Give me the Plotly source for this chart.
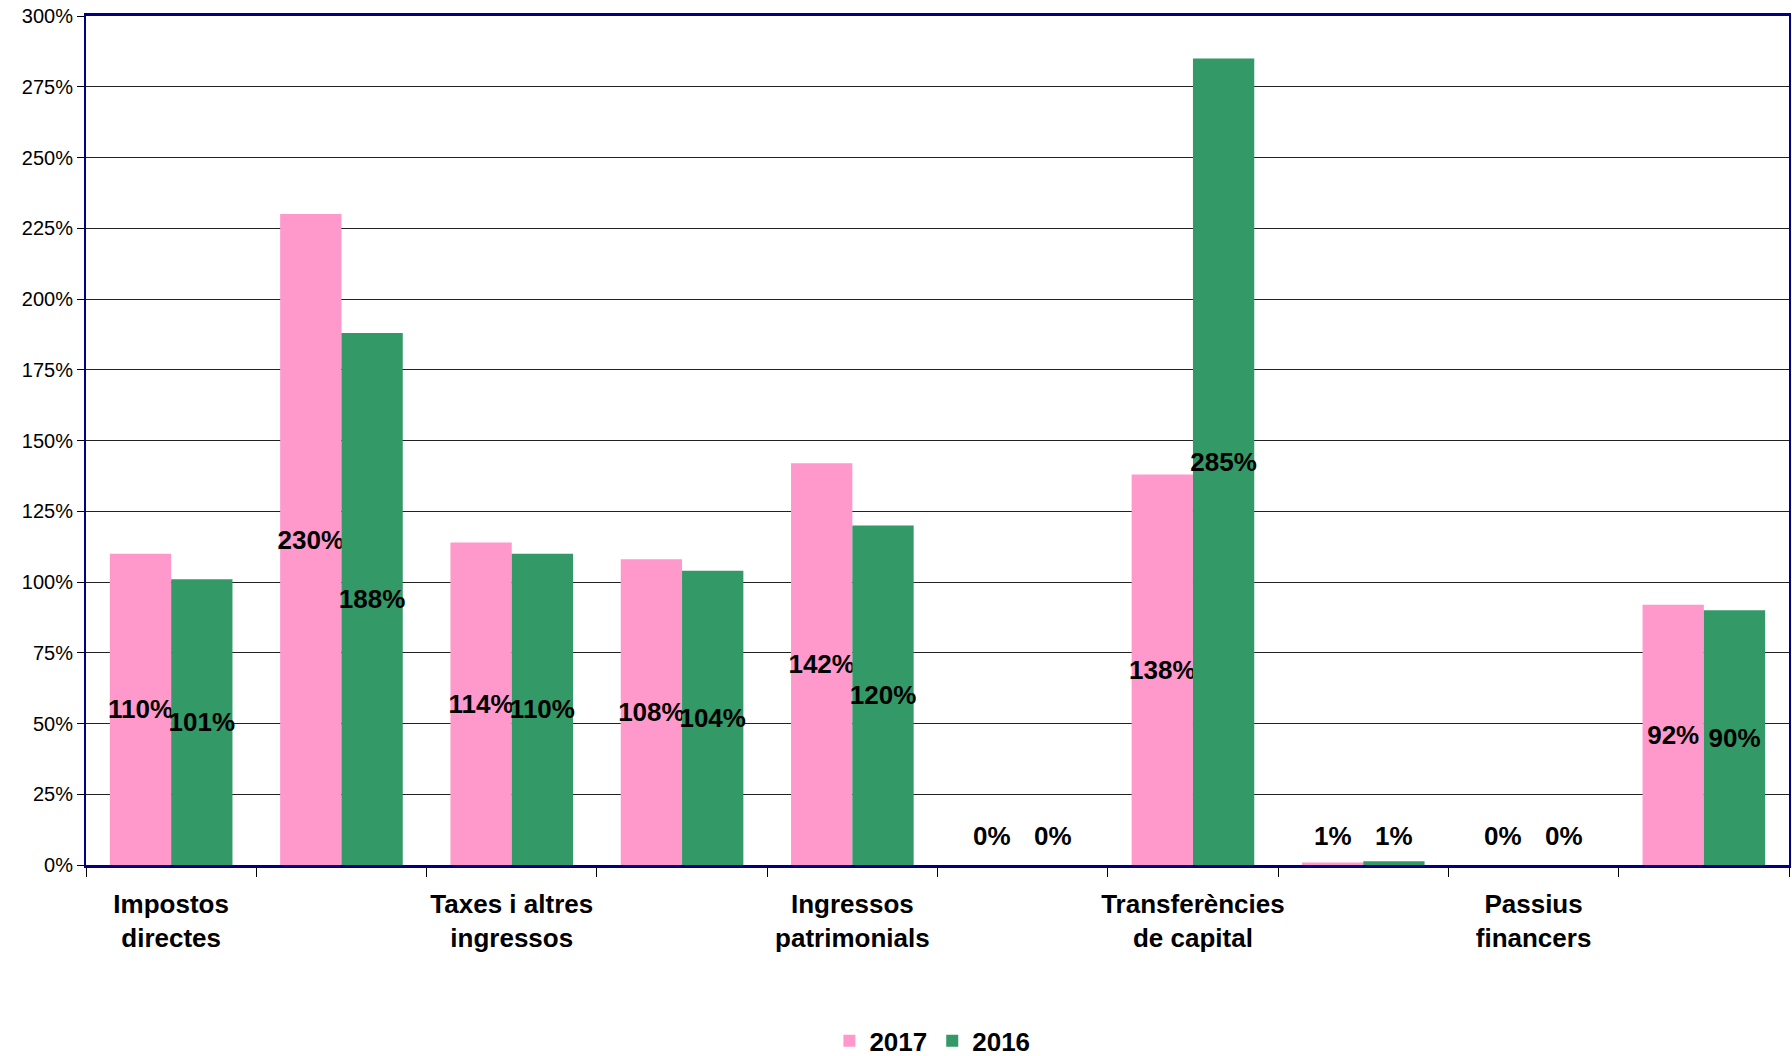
import plotly.graph_objects as go

categories = [
    "Impostos directes", "Impostos indirectes", "Taxes i altres ingressos",
    "Transferències corrents", "Ingressos patrimonials",
    "Alienació d'inversions reals", "Transferències de capital",
    "Actius financers", "Passius financers", "Total",
]
tick_labels = [
    "Impostos<br>directes", "", "Taxes i altres<br>ingressos", "",
    "Ingressos<br>patrimonials", "", "Transferències<br>de capital", "",
    "Passius<br>financers", "",
]
values_2017 = [110, 230, 114, 108, 142, 0, 138, 0.9, 0, 92]
values_2016 = [101, 188, 110, 104, 120, 0, 285, 1.3, 0, 90]

FONT = "Liberation Sans, Arial, Helvetica, sans-serif"
SMALL = 10  # values below this get their label just above the axis

fig = go.Figure()
annotations = []
series = [("2017", values_2017, "#FF99CC", -1), ("2016", values_2016, "#339966", 1)]
for name, vals, color, side in series:
    texts = ["<b>%.0f%%</b>" % v if v >= SMALL else "" for v in vals]
    fig.add_trace(go.Bar(
        name=name, x=categories, y=vals,
        marker=dict(color=color, line=dict(width=0)),
        text=texts,
        textposition="inside",
        insidetextanchor="middle",
        textangle=0,
        constraintext="none",
        cliponaxis=False,
        textfont=dict(family=FONT, size=26, color="black"),
        insidetextfont=dict(family=FONT, size=26, color="black"),
        hoverinfo="skip",
    ))
    for c, v in zip(categories, vals):
        if v < SMALL:
            annotations.append(dict(
                x=c, y=0, xref="x", yref="y", text="<b>%.0f%%</b>" % v,
                showarrow=False, xanchor="center", yanchor="bottom",
                xshift=side * 30.7, yshift=12,
                font=dict(family=FONT, size=26, color="black"),
            ))

fig.update_layout(
    width=1792, height=1056,
    margin=dict(l=86, r=3, t=16, b=191, autoexpand=False),
    paper_bgcolor="white", plot_bgcolor="white",
    barmode="group", bargap=0.28, bargroupgap=0,
    uniformtext=dict(minsize=26, mode="show"),
    font=dict(family=FONT, color="black"),
    showlegend=True,
    annotations=annotations,
    legend=dict(
        orientation="h", x=0.497, xanchor="center", y=-0.207, yanchor="middle",
        font=dict(family=FONT, size=26, color="black", weight="bold"),
        itemwidth=30, traceorder="normal",
    ),
)

fig.update_xaxes(
    type="category",
    tickmode="array", tickvals=categories,
    ticktext=["<b>" + t + "</b>" if t else "" for t in tick_labels],
    tickson="boundaries", ticks="outside", ticklen=9, tickcolor="black", tickwidth=1,
    tickfont=dict(family=FONT, size=26, color="black"),
    tickangle=0,
    ticklabelstandoff=14,
    showline=True, linecolor="#000080", linewidth=3, mirror=True,
    showgrid=False, zeroline=False,
)

fig.update_yaxes(
    range=[0, 300], tickmode="linear", tick0=0, dtick=25, ticksuffix="%",
    ticks="outside", ticklen=7, tickcolor="black", tickwidth=1,
    tickfont=dict(family=FONT, size=20, color="black"),
    ticklabeloverflow="allow",
    showline=True, linecolor="#000080", linewidth=2, mirror=True,
    showgrid=True, gridcolor="#222222", gridwidth=1,
    zeroline=False,
)

fig.write_html(
    "out.html",
    config={"displayModeBar": False},
    post_script="document.body.style.margin='0';document.body.style.overflow='hidden';",
)
